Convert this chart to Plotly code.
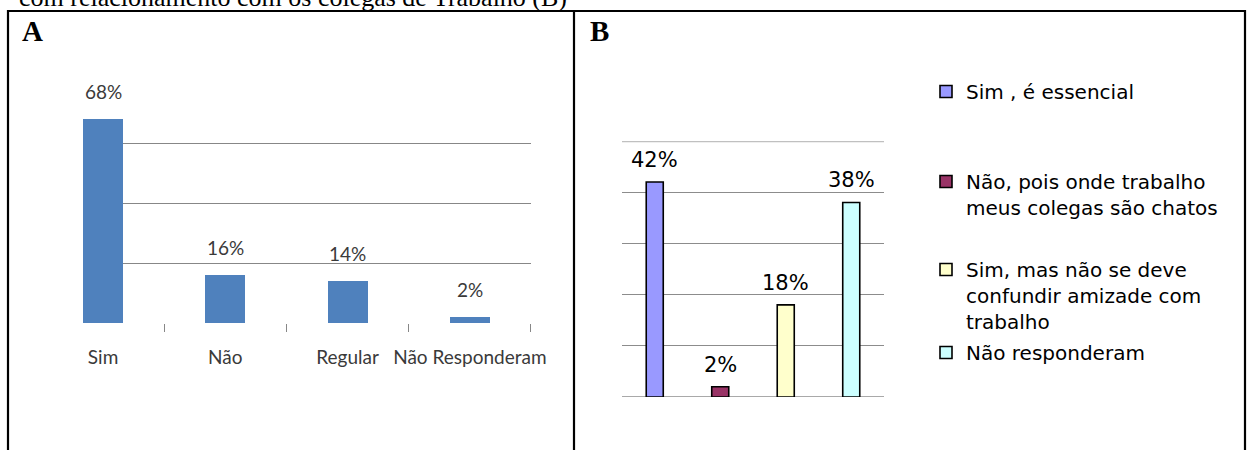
import plotly.graph_objects as go

# Panel A: relacionamento com os colegas de trabalho
cat_a = ["Sim", "Não", "Regular", "Não Responderam"]
val_a = [68, 16, 14, 2]

# Panel B: amizade no trabalho
cat_b = [
    "Sim , é essencial",
    "Não, pois onde trabalho<br>meus colegas são chatos",
    "Sim, mas não se deve<br>confundir amizade com<br>trabalho",
    "Não responderam",
]
val_b = [42, 2, 18, 38]
col_b = ["#9999FF", "#993366", "#FFFFCC", "#CCFFFF"]

W, H = 1252, 450


def px_x(p):
    return p / W


def px_y(p):
    return 1 - p / H


fig = go.Figure()

# --- panel A bars ---
fig.add_trace(go.Bar(
    x=cat_a, y=val_a, xaxis="x", yaxis="y",
    marker=dict(color="#4F81BD", line=dict(width=0)),
    width=0.327, showlegend=False, hoverinfo="skip",
))

# --- panel B bars, one trace per answer so each gets a legend entry ---
legend_tops = [72, 162, 250, 333]
for i, (name, v, c) in enumerate(zip(cat_b, val_b, col_b)):
    lg = "legend" if i == 0 else f"legend{i + 1}"
    fig.add_trace(go.Bar(
        x=[i], y=[v], xaxis="x2", yaxis="y2", name=name,
        marker=dict(color=c, line=dict(color="#000000", width=1.6)),
        width=0.26, legend=lg, hoverinfo="skip",
    ))

grid_a = "#878787"
grid_b = "#8c8c8c"

fig.update_layout(
    template="none",
    width=W, height=H, autosize=False,
    margin=dict(l=0, r=0, t=0, b=0, pad=0, autoexpand=False),
    paper_bgcolor="white", plot_bgcolor="rgba(0,0,0,0)",
    bargap=0,
    xaxis=dict(
        domain=[px_x(83), px_x(531)], range=[-0.164, 3.5001],
        type="category", tickson="boundaries", ticks="outside",
        ticklen=8, tickcolor=grid_a, tickwidth=1, tickangle=0,
        showgrid=False, showline=False, zeroline=False, automargin=False,
        tickfont=dict(family="Lato", size=19, color="#3a3a3a"),
        ticklabelstandoff=21, anchor="y", fixedrange=True,
    ),
    yaxis=dict(
        domain=[px_y(323), px_y(83)], range=[0, 80],
        tickvals=[0, 20, 40, 60], showticklabels=False, ticks="",
        showgrid=True, gridcolor=grid_a, gridwidth=1, automargin=False,
        zeroline=False, showline=False, anchor="x", fixedrange=True,
    ),
    xaxis2=dict(
        domain=[px_x(622), px_x(884)], range=[-0.5, 3.5],
        showticklabels=False, ticks="", showgrid=False, automargin=False,
        zeroline=False, showline=False, anchor="y2", fixedrange=True,
    ),
    yaxis2=dict(
        domain=[px_y(397), px_y(141)], range=[0, 50],
        tickvals=[0, 10, 20, 30, 40], showticklabels=False, ticks="",
        showgrid=True, gridcolor=grid_b, gridwidth=1, automargin=False,
        zeroline=False, showline=False, anchor="x2", fixedrange=True,
    ),
    showlegend=True,
)

# legends placed individually to keep the uneven vertical spacing
leg_font = dict(family="DejaVu Sans", size=20, color="#000000")
for i, top in enumerate(legend_tops):
    key = "legend" if i == 0 else f"legend{i + 1}"
    fig.update_layout({key: dict(
        x=px_x(926), y=px_y(top), xanchor="left", yanchor="top",
        xref="paper", yref="paper",
        bgcolor="rgba(0,0,0,0)", borderwidth=0,
        font=leg_font, valign="top", itemclick=False, itemdoubleclick=False,
    )})

# top gridline of panel B is lighter and heavier
fig.add_shape(type="line", xref="x2 domain", yref="y2", x0=0, x1=1, y0=50, y1=50,
              line=dict(color="#c0c0c0", width=2.5))
# panel B baseline
fig.add_shape(type="line", xref="x2 domain", yref="y2", x0=0, x1=1, y0=0, y1=0,
              line=dict(color=grid_b, width=1.5), layer="below")

# value labels
for c, v in zip(cat_a, val_a):
    fig.add_annotation(x=c, y=v, xref="x", yref="y", text=f"{v}%",
                       showarrow=False, yanchor="bottom", yshift=14,
                       font=dict(family="Lato", size=19, color="#3a3a3a"))
for i, v in enumerate(val_b):
    fig.add_annotation(x=i, y=v, xref="x2", yref="y2", text=f"{v}%",
                       showarrow=False, yanchor="bottom", yshift=8,
                       font=dict(family="DejaVu Sans", size=21, color="#000000"))

# table frame around the two panels
frame = dict(color="#000000", width=2.2)
fig.add_shape(type="line", xref="paper", yref="paper",
              x0=px_x(7), x1=px_x(1246), y0=px_y(11), y1=px_y(11), line=frame)
for xp in (8, 574, 1245):
    fig.add_shape(type="line", xref="paper", yref="paper",
                  x0=px_x(xp), x1=px_x(xp), y0=px_y(10), y1=px_y(460), line=frame)

# panel letters
for letter, xp in (("A", 20), ("B", 588)):
    fig.add_annotation(x=px_x(xp), y=px_y(13), xref="paper", yref="paper",
                       text=f"<b>{letter}</b>", showarrow=False,
                       xanchor="left", yanchor="top",
                       font=dict(family="Liberation Serif", size=29, color="#000000"))

# caption line above the frame
fig.add_annotation(x=px_x(17), y=px_y(14), xref="paper", yref="paper",
                   text="com relacionamento com os colegas de Trabalho (B)",
                   showarrow=False, xanchor="left", yanchor="bottom",
                   font=dict(family="Liberation Serif", size=26, color="#000000"))

fig.write_html("out.html", config=dict(displayModeBar=False, staticPlot=True))
